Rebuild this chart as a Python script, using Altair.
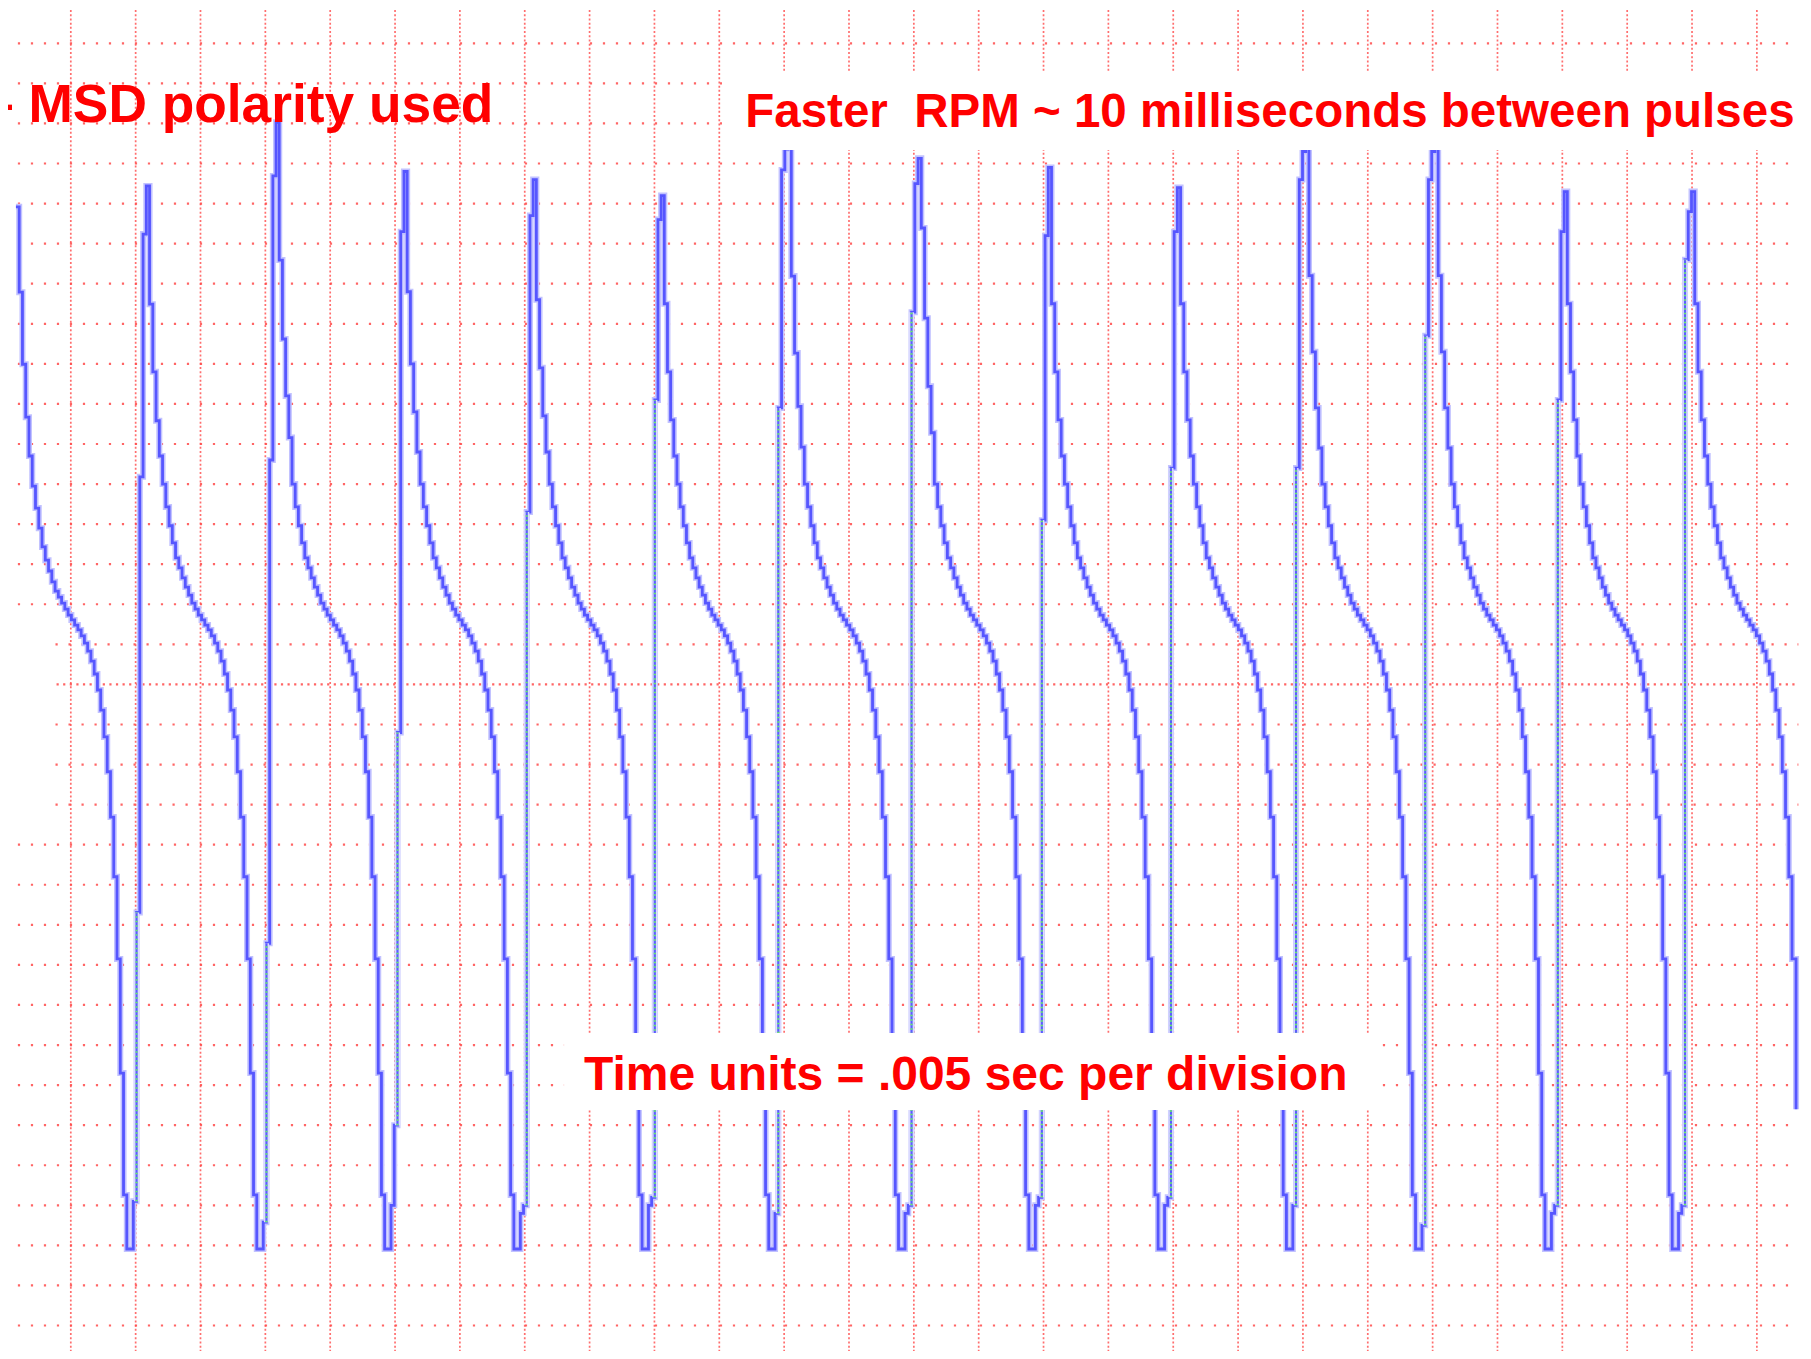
import altair as alt
import pandas as pd

# ---------------- chart geometry (page is 1811x1359, body margin 8px) ----------------
W, H = 1795, 1343
X_DOMAIN = [-4.842, 133.556]   # time, ms (0.005 s = 5 ms per division)
Y_DOMAIN = [-16.636, 16.881]   # amplitude, divisions from the centre line

# ---------------- grid ----------------
V_LINES_MS = list(range(0, 135, 5))
H_LINES_DIV = [v for v in range(-16, 17) if v != 0]
ROWS_SHORT = [1, -1, -2, -3]
GRID_TOP, GRID_BOTTOM = 16.83, -17.2
ROW_LEFT, ROW_LEFT_SHORT, ROW_RIGHT = -4.08, -1.18, 133.2

# ---------------- trace (in divisions) ----------------
BOTTOM = -14.09
FIRST_START = -4.23
FIRST = [11.92, 9.79, 7.99, 6.67, 5.70, 4.95, 4.40, 3.90, 3.43, 3.10, 2.83, 2.56, 2.33, 2.18]
TAIL = [5.00, 4.43, 3.96, 3.53, 3.16, 2.91, 2.66, 2.43, 2.23, 2.03, 1.88, 1.73, 1.61, 1.48,
        1.36, 1.21, 1.03, 0.83, 0.58, 0.26, -0.14, -0.64, -1.31, -2.18, -3.31, -4.80, -6.85,
        -9.70, -12.74]
RISE_MS = [4.82, 14.84, 24.69, 34.66, 44.54, 54.30, 64.32, 74.37, 84.33, 94.22, 104.18,
           114.16, 123.96]
END_MS, END_V = 133.02, -10.6
RISES = [
    [-12.90, -5.69, 5.18, 11.24],
    [-13.42, -6.46, 5.60, 12.69],
    [-13.0, -11.0, -1.2, 11.3],
    [-13.2, -13.0, 4.3, 11.7],
    [-13.0, -12.8, 7.1, 11.6],
    [-13.2, 6.90, 12.84, 13.36],
    [-13.2, -13.0, 9.29, 12.5],
    [-13.0, -12.8, 4.1, 11.2],
    [-13.0, -12.8, 5.4, 11.3],
    [-13.0, 5.4, 12.6, 13.3],
    [-13.5, 8.7, 12.6, 13.3],
    [-13.2, -13.0, 7.1, 11.3],
    [-13.2, -13.0, 10.6, 11.8],
]
PEAKS = [12.44, 14.03, 12.8, 12.6, 12.2, 13.6, 13.13, 12.9, 12.4, 13.6, 13.6, 12.3, 12.3]
HEADS = [
    [9.49, 7.80, 6.58, 5.70],
    [10.59, 8.62, 7.20, 6.16],
    [9.8, 8.0, 6.8, 5.8],
    [9.6, 7.9, 6.7, 5.8],
    [9.5, 7.8, 6.6, 5.7],
    [10.19, 8.27, 6.94, 5.92],
    [11.39, 9.14, 7.44, 6.28],
    [9.5, 7.8, 6.6, 5.7],
    [9.5, 7.8, 6.6, 5.7],
    [10.2, 8.3, 6.9, 5.9],
    [10.2, 8.3, 6.9, 5.9],
    [9.5, 7.8, 6.6, 5.7],
    [9.5, 7.8, 6.6, 5.7],
]

# ---------------- annotations ----------------
ANNOT_TEXT = ["\u2013 MSD polarity used",
              "Faster\u00a0 RPM ~ 10 milliseconds between pulses",
              "Time units = .005 sec per division"]
ANNOT_T = [-6.692, 52.0, 39.57]
ANNOT_V = [14.043, 13.903, -10.12]
ANNOT_SIZE = [53.3, 47.5, 48]
BOX_T0 = [50.21, 38.03]
BOX_T1 = [140.0, 100.87]
BOX_V0 = [15.28, -8.70]
BOX_V1 = [13.34, -10.62]
MASK_T0, MASK_T1, MASK_V0, MASK_V1 = [-6.0], [-1.5], [1.45], [-3.45]

# ---------------- build tables ----------------
trace = []
first = FIRST + TAIL[9:] + [BOTTOM, BOTTOM]
dt = (RISE_MS[0] - FIRST_START) / len(first)
for i, v in enumerate(first):
    trace.append({"t": FIRST_START + i * dt, "v": v})
jumps = []
for k in range(len(RISE_MS)):
    vals = RISES[k] + [PEAKS[k]] + HEADS[k] + TAIL + [BOTTOM, BOTTOM]
    if k + 1 < len(RISE_MS):
        dt = (RISE_MS[k + 1] - RISE_MS[k]) / len(vals)
        n = len(vals)
    else:
        dt = 0.25
        n = int((END_MS - RISE_MS[k]) / dt)
    for i in range(n):
        trace.append({"t": RISE_MS[k] + i * dt, "v": vals[i]})
    # first long rising jump of each pulse is drawn as a dotted segment on the scope
    for j in range(len(RISES[k]) - 1):
        if RISES[k][j + 1] - RISES[k][j] > 4:
            jumps.append({"t": RISE_MS[k] + (j + 1) * dt, "v0": RISES[k][j], "v1": RISES[k][j + 1]})
            break
trace.append({"t": END_MS, "v": END_V})
trace_df = pd.DataFrame(trace)
jump_df = pd.DataFrame(jumps)

vgrid = pd.DataFrame({"t": V_LINES_MS, "y0": GRID_TOP, "y1": GRID_BOTTOM})
hgrid = pd.DataFrame({"v": H_LINES_DIV,
                      "x0": [ROW_LEFT_SHORT if v in ROWS_SHORT else ROW_LEFT for v in H_LINES_DIV],
                      "x1": ROW_RIGHT})
cgrid = pd.DataFrame({"v": [0], "x0": [-1.1], "x1": [ROW_RIGHT]})
boxes = pd.DataFrame({"t0": BOX_T0, "t1": BOX_T1, "v0": BOX_V0, "v1": BOX_V1})
mask = pd.DataFrame({"t0": MASK_T0, "t1": MASK_T1, "v0": MASK_V0, "v1": MASK_V1})
annot = pd.DataFrame({"text": ANNOT_TEXT, "t": ANNOT_T, "v": ANNOT_V, "size": ANNOT_SIZE})

xs = alt.Scale(domain=X_DOMAIN, nice=False, zero=False)
ys = alt.Scale(domain=Y_DOMAIN, nice=False, zero=False)
GRID_RED = "#ff4a4a"

vlines = alt.Chart(vgrid).mark_rule(color=GRID_RED, strokeWidth=1.7, strokeDash=[2, 2.2], opacity=0.8).encode(
    x=alt.X("t:Q", scale=xs, axis=None),
    y=alt.Y("y0:Q", scale=ys, axis=None), y2="y1:Q")
hlines = alt.Chart(hgrid).mark_rule(color=GRID_RED, strokeWidth=2.2, strokeDash=[2.2, 10.8], opacity=0.85).encode(
    x=alt.X("x0:Q", scale=xs, axis=None), x2="x1:Q",
    y=alt.Y("v:Q", scale=ys, axis=None))
clines = alt.Chart(cgrid).mark_rule(color=GRID_RED, strokeWidth=2.2, strokeDash=[2.2, 4.4], opacity=0.85).encode(
    x=alt.X("x0:Q", scale=xs, axis=None), x2="x1:Q",
    y=alt.Y("v:Q", scale=ys, axis=None))
masks = alt.Chart(mask).mark_rect(color="white").encode(
    x=alt.X("t0:Q", scale=xs, axis=None), x2="t1:Q",
    y=alt.Y("v0:Q", scale=ys, axis=None), y2="v1:Q")
halo = alt.Chart(trace_df).mark_line(interpolate="step-after", color="#c2c2ff", strokeWidth=6).encode(
    x=alt.X("t:Q", scale=xs, axis=None), y=alt.Y("v:Q", scale=ys, axis=None))
core = alt.Chart(trace_df).mark_line(interpolate="step-after", color="#5656ff", strokeWidth=2.8).encode(
    x=alt.X("t:Q", scale=xs, axis=None), y=alt.Y("v:Q", scale=ys, axis=None))
jump_white = alt.Chart(jump_df).mark_rule(color="#dcdcff", strokeWidth=5).encode(
    x=alt.X("t:Q", scale=xs, axis=None),
    y=alt.Y("v0:Q", scale=ys, axis=None), y2="v1:Q")
jump_blue = alt.Chart(jump_df).mark_rule(color="#5c5cff", strokeWidth=2.2).encode(
    x=alt.X("t:Q", scale=xs, axis=None),
    y=alt.Y("v0:Q", scale=ys, axis=None), y2="v1:Q")
jump_green = alt.Chart(jump_df).mark_rule(color="#66f066", strokeWidth=2.2, strokeDash=[1.5, 3]).encode(
    x=alt.X("t:Q", scale=xs, axis=None),
    y=alt.Y("v0:Q", scale=ys, axis=None), y2="v1:Q")
boxl = alt.Chart(boxes).mark_rect(color="white").encode(
    x=alt.X("t0:Q", scale=xs, axis=None), x2="t1:Q",
    y=alt.Y("v0:Q", scale=ys, axis=None), y2="v1:Q")
texts = alt.Chart(annot).mark_text(align="left", baseline="alphabetic", font="Liberation Sans",
                                    fontWeight="bold", color="#ff0000").encode(
    x=alt.X("t:Q", scale=xs, axis=None), y=alt.Y("v:Q", scale=ys, axis=None),
    text="text:N", size=alt.Size("size:Q", scale=None, legend=None))

chart = alt.layer(vlines, hlines, clines, masks, halo, core, jump_white, jump_blue, jump_green,
                  boxl, texts).properties(
    width=W, height=H, autosize=alt.AutoSizeParams(type="none"), padding=0,
    background="white").configure_view(stroke=None)

chart.save("out.html", embed_options={"renderer": "svg", "actions": False})
